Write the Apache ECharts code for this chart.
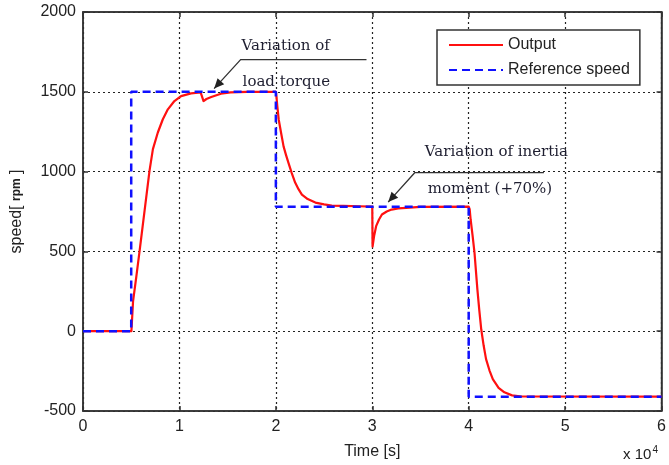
<!DOCTYPE html>
<html>
<head>
<meta charset="utf-8">
<script src="https://cdn.jsdelivr.net/npm/echarts@6/dist/echarts.min.js"></script>
<style>
  html, body { margin: 0; padding: 0; background: #fff; }
  #main { width: 669px; height: 465px; }
</style>
</head>
<body>
<div id="main"></div>
<script>
// x in units of 1e4 s
var xTicks = [0, 1, 2, 3, 4, 5, 6];
var yTicks = [-500, 0, 500, 1000, 1500, 2000];

// reference speed (step profile)
var refT = [0, 0.5, 0.5, 2, 2, 4, 4, 6];
var refV = [0, 0, 1500, 1500, 780, 780, -410, -410];

// output speed
var outT = [0, 0.502, 0.519, 0.553, 0.588, 0.622, 0.656, 0.69, 0.725, 0.776, 0.828, 0.88, 0.948, 1.017, 1.12, 1.22, 1.235, 1.25, 1.28, 1.33, 1.43, 1.53, 1.7, 2.0,
            2.005, 2.015, 2.03, 2.055, 2.08, 2.105, 2.13, 2.165, 2.2, 2.235, 2.27, 2.33, 2.41, 2.5, 2.58, 2.7, 2.86, 3.0,
            3.003, 3.02, 3.04, 3.07, 3.1, 3.15, 3.2, 3.27, 3.35, 3.5, 4.0,
            4.01, 4.02, 4.04, 4.06, 4.09, 4.11, 4.13, 4.155, 4.18, 4.215, 4.25, 4.31, 4.37, 4.45, 4.55, 6.0];
var outV = [0, 0, 187, 342, 508, 674, 840, 1006, 1141, 1245, 1328, 1390, 1442, 1473, 1490, 1496, 1497, 1442, 1455, 1467, 1488, 1496, 1500, 1500,
            1480, 1410, 1325, 1240, 1158, 1105, 1056, 990, 931, 890, 856, 828, 806, 795, 787, 785, 783, 780,
            530, 600, 658, 700, 731, 750, 762, 769, 773, 779, 780,
            765, 700, 600, 493, 262, 130, 12, -90, -175, -245, -300, -355, -383, -402, -409, -410];

function pairs(t, v) {
    var out = [];
    for (var i = 0; i < t.length; i++) out.push([t[i], v[i]]);
    return out;
}

var axisCol = '#333';
var labelCol = '#222';
var chart = echarts.init(document.getElementById('main'));

var gridLine = { show: true, lineStyle: { color: '#222', type: [2, 3], width: 1.2 } };

chart.setOption({
    animation: false,
    grid: { left: 83, right: 4, top: 12, bottom: 53, show: true, borderColor: axisCol, borderWidth: 1.5 },
    legend: {
        left: 437, top: 30, orient: 'vertical',
        padding: [7, 10, 7, 11],
        itemWidth: 54, itemHeight: 14, itemGap: 9,
        borderColor: '#333', borderWidth: 1.5, backgroundColor: '#fff',
        itemStyle: { opacity: 0 },
        textStyle: { fontFamily: 'Liberation Sans', fontSize: 16, color: labelCol },
        data: ['Output', 'Reference speed']
    },
    xAxis: [{
        type: 'value', min: 0, max: 6, interval: 1,
        name: 'Time [s]', nameLocation: 'middle', nameGap: 33,
        nameTextStyle: { fontFamily: 'Liberation Sans', fontSize: 16, color: labelCol },
        axisLine: { show: true, onZero: false, lineStyle: { color: axisCol, width: 1.5 } },
        axisTick: { show: true, inside: true, length: 5, lineStyle: { color: axisCol, width: 1.5 } },
        axisLabel: { margin: 8, fontFamily: 'Liberation Sans', fontSize: 16, color: labelCol,
            formatter: function (v) { return xTicks.indexOf(v) >= 0 ? String(v) : ''; } },
        splitLine: gridLine
    }, {
        type: 'value', min: 0, max: 6, interval: 1, position: 'top',
        axisLine: { show: true, onZero: false, lineStyle: { color: axisCol, width: 1.5 } },
        axisTick: { show: true, inside: true, length: 5, lineStyle: { color: axisCol, width: 1.5 } },
        axisLabel: { show: false }, splitLine: { show: false }
    }],
    yAxis: [{
        type: 'value', min: -500, max: 2000, interval: 500,
        name: '{a|speed[ }{b|rpm}{a| ]}', nameLocation: 'middle', nameGap: 58, nameRotate: 90,
        nameTextStyle: {
            rich: {
                a: { fontFamily: 'Liberation Sans', fontSize: 16, color: labelCol },
                b: { fontFamily: 'Liberation Sans', fontSize: 12, fontWeight: 'bold', color: labelCol }
            }
        },
        axisLine: { show: true, onZero: false, lineStyle: { color: axisCol, width: 1.5 } },
        axisTick: { show: true, inside: true, length: 5, lineStyle: { color: axisCol, width: 1.5 } },
        axisLabel: { margin: 7, fontFamily: 'Liberation Sans', fontSize: 16, color: labelCol,
            formatter: function (v) { return yTicks.indexOf(v) >= 0 ? String(v) : ''; } },
        splitLine: gridLine
    }, {
        type: 'value', min: -500, max: 2000, interval: 500, position: 'right',
        axisLine: { show: true, onZero: false, lineStyle: { color: axisCol, width: 1.5 } },
        axisTick: { show: true, inside: true, length: 5, lineStyle: { color: axisCol, width: 1.5 } },
        axisLabel: { show: false }, splitLine: { show: false }
    }],
    series: [{
        name: 'Output', type: 'line', symbol: 'none',
        lineStyle: { color: '#ff1010', width: 2.2, join: 'round' },
        itemStyle: { color: '#ff1010' },
        data: pairs(outT, outV), z: 2
    }, {
        name: 'Reference speed', type: 'line', symbol: 'none',
        lineStyle: { color: '#1010ff', width: 2.5, type: [8, 5] },
        itemStyle: { color: '#1010ff' },
        data: pairs(refT, refV), z: 3
    }]
});

// annotations, anchored in data coordinates
function px(p) { return chart.convertToPixel({ gridIndex: 0 }, p); }
var annoFont = '15px "DejaVu Serif"';
var annoCol = '#1e1e30';
var gid = 0;
function annotation(lines, elbow, endX, tip) {
    var e = px(elbow), t = px(tip), r = px([endX, elbow[1]]);
    var els = [{
        type: 'polyline', id: 'a' + (gid++), z: 50,
        shape: { points: [[r[0], e[1]], e, t] },
        style: { stroke: '#333', lineWidth: 1.3, fill: null }
    }];
    // arrowhead
    var ang = Math.atan2(t[1] - e[1], t[0] - e[0]);
    var L = 10, W = 4.5;
    var bx = t[0] - L * Math.cos(ang), by = t[1] - L * Math.sin(ang);
    els.push({
        type: 'polygon', id: 'a' + (gid++), z: 51,
        shape: { points: [t, [bx + W * Math.sin(ang), by - W * Math.cos(ang)], [bx - W * Math.sin(ang), by + W * Math.cos(ang)]] },
        style: { fill: '#222' }
    });
    lines.forEach(function (ln) {
        var p = px(ln.at);
        els.push({ type: 'text', id: 'a' + (gid++), z: 52, x: p[0], y: p[1],
            style: { text: ln.text, font: annoFont, fill: annoCol, verticalAlign: 'middle' } });
    });
    return els;
}
var g = [{
    type: 'text', id: 'exp', right: 11, top: 445,
    style: { text: '{a|x 10}{s|4}', rich: {
        a: { fontFamily: 'Liberation Sans', fontSize: 15, fill: labelCol },
        s: { fontFamily: 'Liberation Sans', fontSize: 10, fill: labelCol, verticalAlign: 'top', padding: [0, 0, 10, 1] }
    } }
}].concat(
    annotation([{ text: 'Variation of', at: [1.645, 1785] }, { text: 'load torque', at: [1.655, 1562] }],
        [1.635, 1702], 2.94, [1.36, 1520]),
    annotation([{ text: 'Variation of inertia', at: [3.545, 1120] }, { text: 'moment (+70%)', at: [3.575, 888] }],
        [3.44, 993], 4.78, [3.165, 809])
);
chart.setOption({ graphic: g });
</script>
</body>
</html>
